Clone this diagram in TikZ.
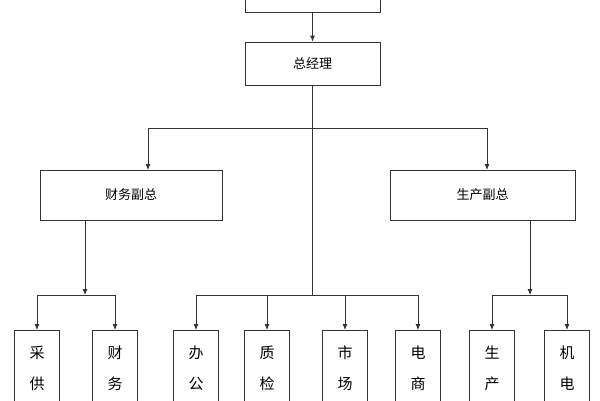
\documentclass[tikz,border=0pt]{standalone}
\usepackage{fontspec}
\setmainfont{Noto Sans CJK SC}
\usetikzlibrary{arrows.meta}
\begin{document}
\begin{tikzpicture}[x=1pt,y=-1pt,
  bx/.style={draw=black!80,line width=0.8pt,fill=white,inner sep=0pt},
  ln/.style={draw=black!80,line width=0.8pt},
  ar/.style={ln,-{Latex[length=6pt,width=5pt]}}]
\useasboundingbox (0,0) rectangle (600,400);
\clip (0,0) rectangle (600,400);
\fill[white] (0,0) rectangle (600,400);
\node[bx,minimum width=135pt,minimum height=40pt] (top) at (312.5,-8) {};
\node[bx,minimum width=135pt,minimum height=43pt,font=\fontsize{13}{15}\selectfont] (gm) at (312.5,63.5) {总经理};
\node[bx,minimum width=182pt,minimum height=50pt,font=\fontsize{13}{15}\selectfont] (cw) at (131,195) {财务副总};
\node[bx,minimum width=185pt,minimum height=50pt,font=\fontsize{13}{15}\selectfont] (sc) at (482.5,195) {生产副总};
\foreach \n/\x/\a/\b in {b1/37/采/供,b2/115/财/务,b3/196/办/公,b4/267/质/检,b5/345/市/场,b6/418/电/商,b7/492/生/产,b8/567/机/电}{
  \node[bx,minimum width=45pt,minimum height=110pt,anchor=north] (\n) at (\x,330) {};
  \node[font=\fontsize{15}{17}\selectfont] at (\x,353) {\a};
  \node[font=\fontsize{15}{17}\selectfont] at (\x,384) {\b};
}
\coordinate (j1) at (312.5,128);
\coordinate (j2) at (312.5,295);
\coordinate (j3) at (85,295);
\coordinate (j4) at (530,295);
\draw[ar] (top) -- (gm);
\draw[ln] (gm.south) -- (j2);
\draw[ar] (148,128) -- (148,170);
\draw[ln] (148,128) -- (487,128);
\draw[ar] (487,128) -- (487,170);
\draw[ar] (85,220) -- (j3);
\draw[ar] (530,220) -- (j4);
\draw[ln] (37,295) -- (115,295);
\draw[ln] (196,295) -- (418,295);
\draw[ln] (492,295) -- (567,295);
\foreach \n in {b1,b2,b3,b4,b5,b6,b7,b8} \draw[ar] (\n.north|-j2) -- (\n.north);
\end{tikzpicture}
\end{document}
